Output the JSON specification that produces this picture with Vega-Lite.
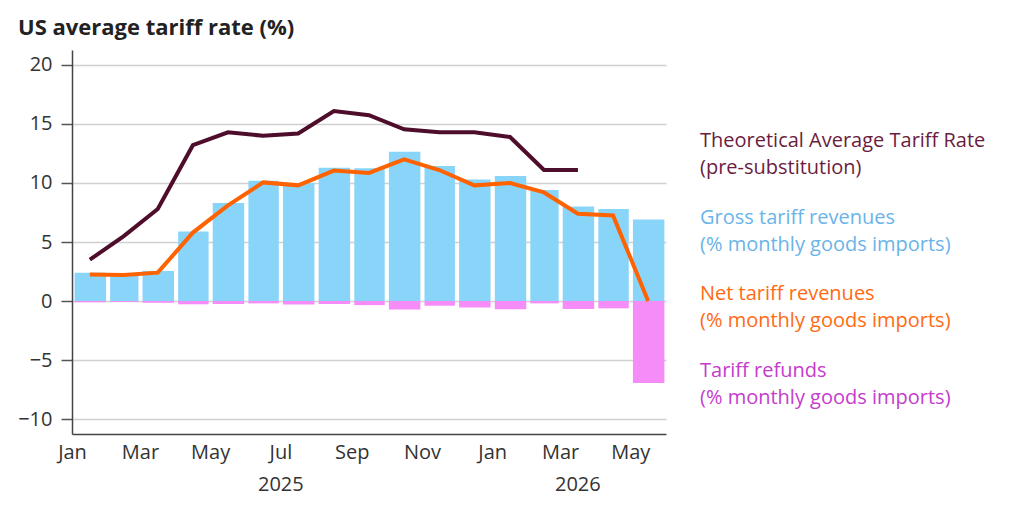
{
  "$schema": "https://vega.github.io/schema/vega-lite/v6.json",
  "width": 594,
  "height": 384,
  "autosize": {"type": "none"},
  "padding": {"left": 72, "top": 50, "right": 357, "bottom": 92},
  "background": "white",
  "config": {"font": "Open Sans", "view": {"stroke": null}},
  "title": {
    "text": "US average tariff rate (%)",
    "anchor": "start",
    "frame": "group",
    "dx": -54,
    "fontSize": 22,
    "fontWeight": "bold",
    "color": "#222222",
    "offset": 10
  },
  "data": {
    "values": [
      {"month": "2025-01-15", "theo": 3.5, "gross": 2.4, "refunds": -0.1, "net": 2.25},
      {"month": "2025-02-15", "theo": 5.5, "gross": 2.3, "refunds": -0.08, "net": 2.2},
      {"month": "2025-03-15", "theo": 7.8, "gross": 2.55, "refunds": -0.15, "net": 2.4},
      {"month": "2025-04-15", "theo": 13.2, "gross": 5.9, "refunds": -0.28, "net": 5.8},
      {"month": "2025-05-15", "theo": 14.3, "gross": 8.3, "refunds": -0.25, "net": 8.1},
      {"month": "2025-06-15", "theo": 14.0, "gross": 10.2, "refunds": -0.2, "net": 10.05},
      {"month": "2025-07-15", "theo": 14.2, "gross": 10.0, "refunds": -0.3, "net": 9.8},
      {"month": "2025-08-15", "theo": 16.1, "gross": 11.3, "refunds": -0.25, "net": 11.05},
      {"month": "2025-09-15", "theo": 15.75, "gross": 11.25, "refunds": -0.35, "net": 10.85},
      {"month": "2025-10-15", "theo": 14.55, "gross": 12.65, "refunds": -0.73, "net": 12.0},
      {"month": "2025-11-15", "theo": 14.3, "gross": 11.45, "refunds": -0.4, "net": 11.1},
      {"month": "2025-12-15", "theo": 14.3, "gross": 10.3, "refunds": -0.55, "net": 9.8},
      {"month": "2026-01-15", "theo": 13.9, "gross": 10.6, "refunds": -0.7, "net": 10.0},
      {"month": "2026-02-15", "theo": 11.1, "gross": 9.4, "refunds": -0.2, "net": 9.2},
      {"month": "2026-03-15", "theo": 11.1, "gross": 8.0, "refunds": -0.68, "net": 7.4},
      {"month": "2026-04-15", "theo": null, "gross": 7.8, "refunds": -0.62, "net": 7.25},
      {"month": "2026-05-15", "theo": null, "gross": 6.9, "refunds": -6.95, "net": 0.0}
    ]
  },
  "transform": [{"fold": ["theo", "gross", "net", "refunds"], "as": ["series", "value"]}],
  "layer": [
    {
      "transform": [{"filter": "datum.series == 'gross' || datum.series == 'refunds'"}],
      "mark": {"type": "bar", "width": {"band": 0.91}},
      "encoding": {
        "x": {
          "field": "month",
          "timeUnit": "yearmonth",
          "type": "temporal",
          "scale": {"domain": [{"year": 2025, "month": 1, "date": 1}, {"year": 2026, "month": 6, "date": 1}]},
          "axis": {
            "orient": "bottom",
            "title": null,
            "values": [
              {"year": 2025, "month": 1, "date": 1},
              {"year": 2025, "month": 3, "date": 1},
              {"year": 2025, "month": 5, "date": 1},
              {"year": 2025, "month": 7, "date": 1},
              {"year": 2025, "month": 9, "date": 1},
              {"year": 2025, "month": 11, "date": 1},
              {"year": 2026, "month": 1, "date": 1},
              {"year": 2026, "month": 3, "date": 1},
              {"year": 2026, "month": 5, "date": 1}
            ],
            "format": "%b",
            "ticks": false,
            "grid": false,
            "domainColor": "#444444",
            "domainWidth": 1.5,
            "labelFontSize": 20,
            "labelColor": "#333333",
            "labelPadding": 8,
            "labelFlush": false,
            "labelOverlap": false
          }
        },
        "y": {
          "field": "value",
          "type": "quantitative",
          "stack": "zero",
          "scale": {"domain": [-11.27, 21.27], "nice": false, "zero": false},
          "axis": {
            "title": null,
            "values": [-10, -5, 0, 5, 10, 15, 20],
            "tickSize": 11,
            "tickColor": "#555555",
            "tickWidth": 1.5,
            "domainColor": "#444444",
            "domainWidth": 1.5,
            "gridColor": "#d0d0d0",
            "gridWidth": 1.5,
            "labelFontSize": 20,
            "labelColor": "#333333",
            "labelPadding": 9
          }
        },
        "color": {
          "field": "series",
          "type": "nominal",
          "scale": {
            "domain": ["theo", "gross", "net", "refunds"],
            "range": ["#4e0d2a", "#89d5fa", "#ff6200", "#f58cf7"]
          },
          "legend": {
            "orient": "none",
            "legendX": 608,
            "legendY": 81,
            "title": null,
            "labelFontSize": 20,
            "labelLimit": 400,
            "rowPadding": 29.5,
            "symbolSize": 0,
            "symbolOpacity": 0,
            "symbolStrokeWidth": 0,
            "labelOffset": 0,
            "labelExpr": "datum.value == 'theo' ? ['Theoretical Average Tariff Rate', '(pre-substitution)'] : datum.value == 'gross' ? ['Gross tariff revenues', '(% monthly goods imports)'] : datum.value == 'net' ? ['Net tariff revenues', '(% monthly goods imports)'] : ['Tariff refunds', '(% monthly goods imports)']",
            "encode": {
              "labels": {
                "update": {
                  "fill": {"signal": "datum.value == 'theo' ? '#6b1d40' : datum.value == 'gross' ? '#6ab4e8' : datum.value == 'net' ? '#ff6a13' : '#c43ccc'"},
                  "lineHeight": {"value": 27}
                }
              }
            }
          }
        }
      }
    },
    {
      "transform": [{"filter": "(datum.series == 'theo' || datum.series == 'net') && isValid(datum.value)"}],
      "mark": {"type": "line", "strokeWidth": 4},
      "encoding": {
        "x": {
          "field": "month",
          "timeUnit": "yearmonth",
          "type": "temporal",
          "bandPosition": 0.5,
          "axis": {
            "orient": "bottom",
            "title": null,
            "values": [{"year": 2025, "month": 7, "date": 1}, {"year": 2026, "month": 3, "date": 16}],
            "format": "%Y",
            "domain": false,
            "ticks": false,
            "grid": false,
            "labelFontSize": 20,
            "labelColor": "#333333",
            "labelPadding": 40,
            "labelFlush": false,
            "labelOverlap": false
          }
        },
        "y": {"field": "value", "type": "quantitative"},
        "color": {"field": "series", "type": "nominal"}
      }
    }
  ],
  "resolve": {"axis": {"x": "independent"}}
}
